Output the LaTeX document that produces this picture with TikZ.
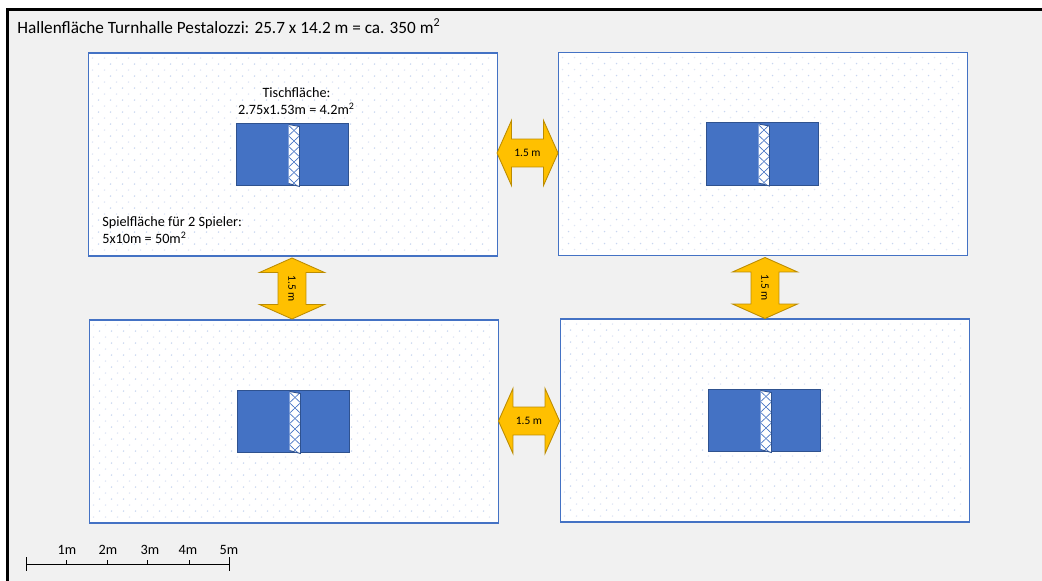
\documentclass[tikz,border=0pt]{standalone}
\usepackage{fontspec}
\setmainfont{Carlito}
\usepackage{xcolor}
\usetikzlibrary{shapes.arrows,positioning}
\definecolor{hallgray}{HTML}{F1F1F1}
\definecolor{fieldblue}{HTML}{4472C4}
\definecolor{tableedge}{HTML}{2F528F}
\definecolor{arrowgold}{HTML}{FFC000}
\definecolor{arrowedge}{HTML}{BC8C00}
\definecolor{dotpale}{HTML}{DFE6F5}
\definecolor{dotblue}{HTML}{C8D6F0}
\tikzset{
  fieldbox/.style={draw=fieldblue, line width=0.75pt, fill=white, inner sep=0, outer sep=0, minimum width=8.18cm, minimum height=4.06cm},
  tablebox/.style={draw=tableedge, line width=0.5pt, fill=fieldblue, inner sep=0, outer sep=0, minimum width=2.24cm, minimum height=1.25cm, xshift=-0.02cm},
  gapbox/.style={shape=double arrow, draw=arrowedge, line width=0.5pt, fill=arrowgold, inner sep=0, outer sep=0, text height=9.8pt, text depth=5.6pt, minimum width=1.28cm, minimum height=1.22cm, double arrow head extend=0.37cm, double arrow tip angle=132, font=\fontsize{6.5}{7.5}\selectfont},
  infotext/.style={font=\fontsize{8.1}{10}\selectfont, inner sep=0},
  scalebar/.style={black, line width=0.45pt},
  scaletext/.style={font=\fontsize{8.1}{9}\selectfont, inner sep=0}
}
\begin{document}
\begin{tikzpicture}[x=0.02cm, y=-0.02cm]
\useasboundingbox (0,0) rectangle (1042,581);

% Hall floor
\fill[white] (0,0) rectangle (1042,581);
\fill[hallgray] (7.5,9.5) rectangle (1042,581);
\draw[black, line width=1.7pt] (7.5,581) -- (7.5,9.5) -- (1042,9.5);

% Title
\node[anchor=west, inner sep=0, font=\fontsize{9.8}{11}\selectfont] (halltitle) at (17,26) {Hallenfläche Turnhalle Pestalozzi: 25.7 x 14.2 m = ca. 350 m\textsuperscript{2}};

% Playing fields
\node[fieldbox] (fieldA) at (293,154.5) {};
\node[fieldbox] (fieldB) at (763,154) {};
\node[fieldbox] (fieldC) at (294,421.5) {};
\node[fieldbox] (fieldD) at (765,420.5) {};

% Dot grid, then table with net
\foreach \f in {A,B,C,D} {
  \begin{scope}[shift={(field\f.north west)}]
    \fill[dotpale] \foreach \x in {4,16,...,400} {\foreach \y in {5,17,...,197} {(\x,\y) circle (0.8)}};
    \fill[dotblue] \foreach \x in {10,22,...,400} {\foreach \y in {11,23,...,197} {(\x,\y) circle (0.8)}};
  \end{scope}
  \node[tablebox] (table\f) at (field\f.center) {};
  \begin{scope}[shift={(table\f.center)}]
    \fill[white] (-3.5,-30) -- (7.5,-28) -- (7.5,32) -- (-3.5,29) -- cycle;
    \begin{scope}
      \clip (-3.5,-30) -- (7.5,-28) -- (7.5,32) -- (-3.5,29) -- cycle;
      \foreach \k in {0,...,5} {
        \draw[fieldblue, line width=0.35pt] (-3.5,-24+10.5*\k-5.25) -- (7.5,-24+10.5*\k+5.25);
        \draw[fieldblue, line width=0.35pt] (-3.5,-24+10.5*\k+5.25) -- (7.5,-24+10.5*\k-5.25);
      }
    \end{scope}
    \draw[tableedge, line width=0.5pt] (-3.5,29) -- (7.5,32) -- (7.5,-28) -- (-3.5,-30);
  \end{scope}
}

% Labels in first field
\node[infotext, align=center] (tablelabel) at (296.5,101) {Tischfläche:\\2.75x1.53m = 4.2m\textsuperscript{2}};
\node[infotext, align=left, anchor=west] (fieldlabel) at (102,230) {Spielfläche für 2 Spieler:\\5x10m = 50m\textsuperscript{2}};

% Gaps between fields
\node[gapbox] (gapAB) at (527.5,153) {1.5 m};
\node[gapbox] (gapCD) at (529,421) {1.5 m};
\node[gapbox, rotate=-90] (gapAC) at (292,288.5) {1.5 m};
\node[gapbox, rotate=-90] (gapBD) at (765,288) {1.5 m};

% Scale bar
\coordinate (scalestart) at (26,564);
\coordinate (scaleend) at (229,564);
\draw[scalebar] (scalestart) -- (scaleend);
\draw[scalebar] (26,557) -- (26,571);
\draw[scalebar] (229,557) -- (229,571);
\foreach \x in {66,107,147,189} {
  \draw[scalebar] (\x,560) -- (\x,564);
}
\foreach \x/\t in {67/1m, 108/2m, 150/3m, 188/4m, 229/5m} {
  \node[scaletext] (scale\t) at (\x,550) {\t};
}
\end{tikzpicture}
\end{document}
